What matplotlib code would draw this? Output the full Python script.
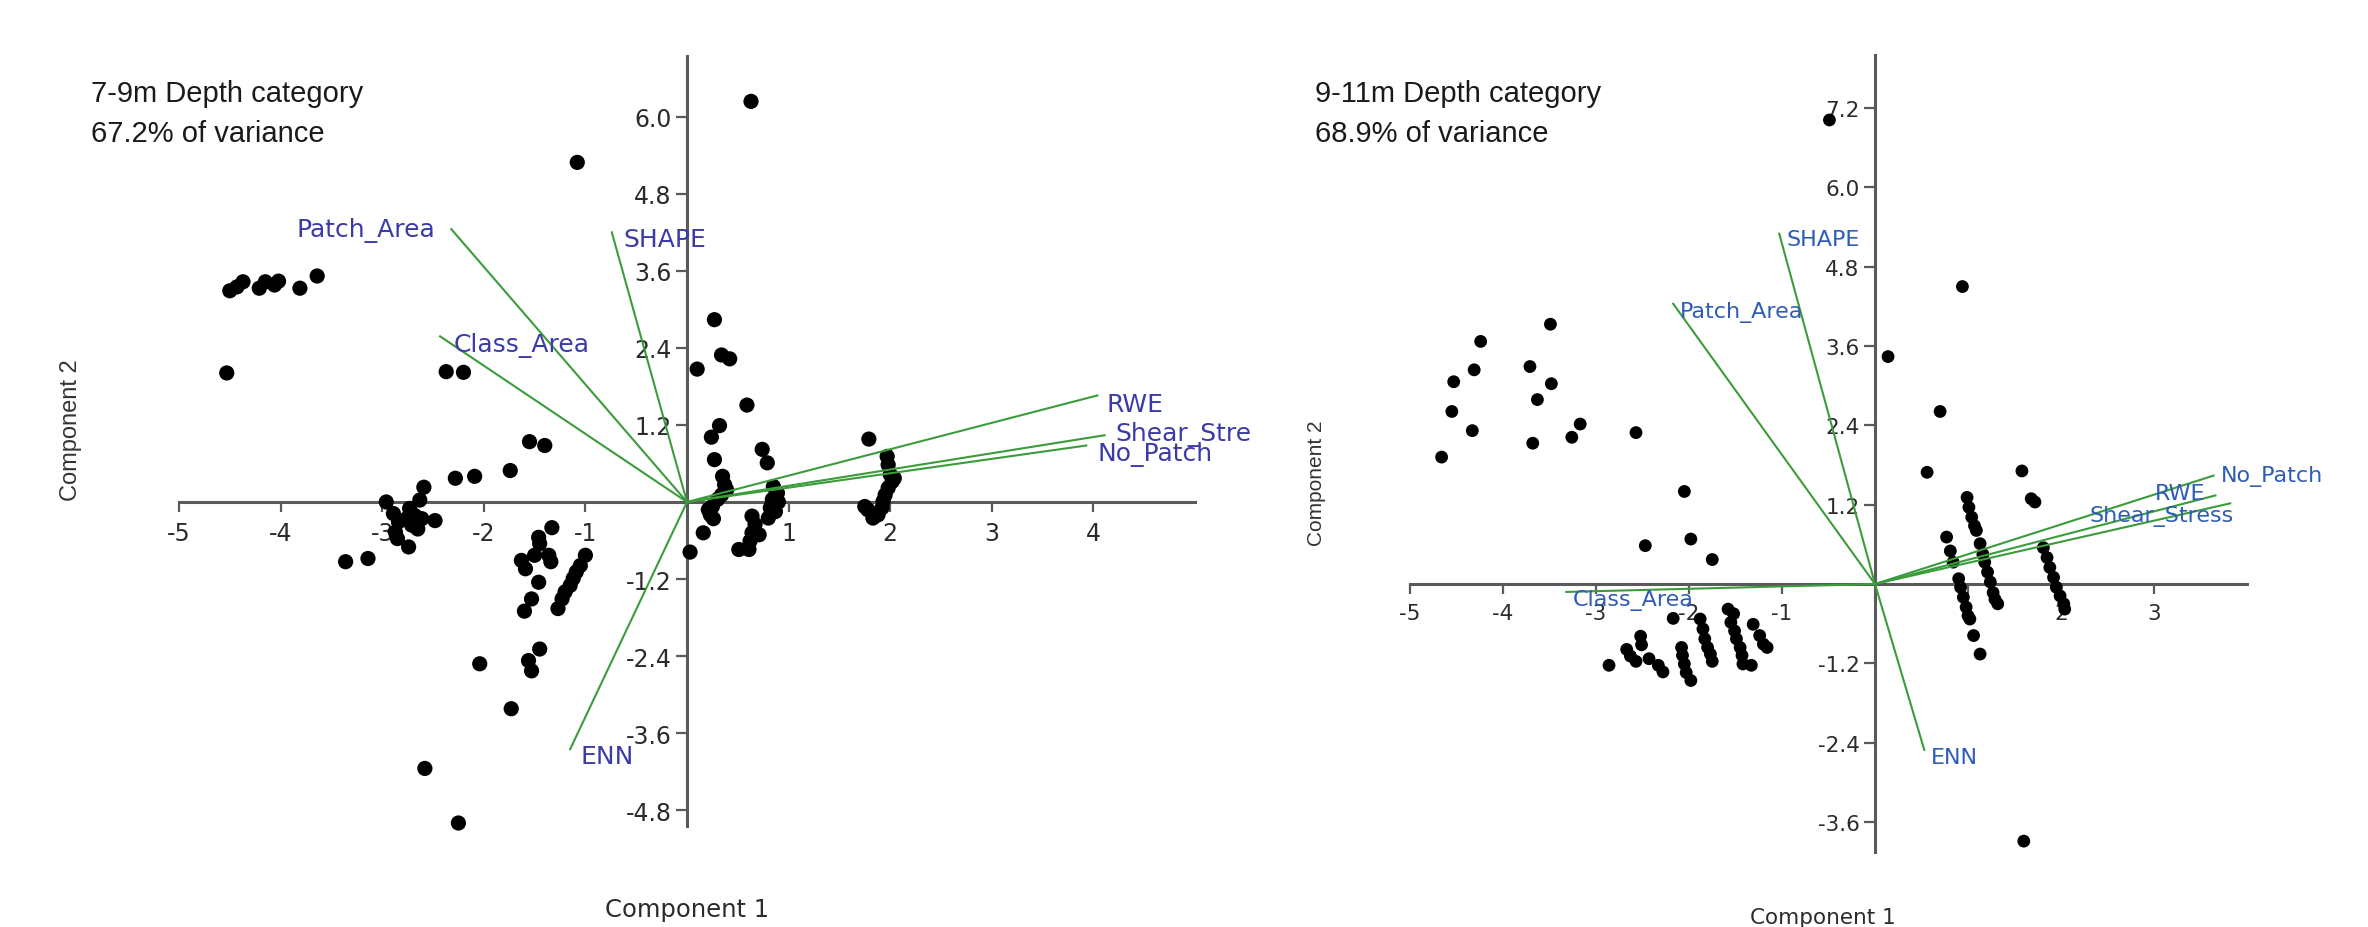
import matplotlib
matplotlib.use('Agg')
import matplotlib.pyplot as plt

# ---------------- data: 7-9m depth ----------------
left_x = [0.63, -1.08,
          -4.50, -4.43, -4.37, -4.21, -4.15, -4.06, -4.02, -3.81, -3.64,
          -4.53, -2.37, -2.20,
          -1.55, -1.40, -1.74, -2.28, -2.09, -2.59, -2.96, -2.63,
          -2.89, -2.84, -2.87, -2.85, -2.74, -2.73, -2.68, -2.65, -2.61, -2.48, -2.76, -2.71,
          -3.36, -3.14,
          -1.33, -1.46, -1.45, -1.63, -1.59, -1.50, -1.36, -1.34, -1.46, -1.53, -1.60,
          -1.00, -1.05, -1.09, -1.12, -1.15, -1.20, -1.23, -1.27,
          -1.45, -1.56, -1.53, -1.73, -2.04, -2.58, -2.25,
          0.27, 0.34, 0.42, 0.10, 0.59, 0.32, 0.24, 0.27, 0.35, 0.37, 0.39, 0.34, 0.30,
          0.25, 0.21, 0.23, 0.26, 0.16, 0.03,
          0.74, 0.79, 0.85, 0.89, 0.84, 0.90, 0.82, 0.87, 0.80,
          0.64, 0.67, 0.64, 0.71, 0.62, 0.61, 0.51,
          1.79, 1.97, 1.98, 2.00, 2.02, 1.98, 1.95, 1.93, 1.92, 1.88, 1.83, 1.78, 1.75, 2.04]
left_y = [6.24, 5.29,
          3.29, 3.35, 3.43, 3.33, 3.43, 3.38, 3.44, 3.33, 3.52,
          2.01, 2.03, 2.02,
          0.94, 0.88, 0.49, 0.37, 0.40, 0.23, 0.00, 0.03,
          -0.18, -0.31, -0.47, -0.57, -0.70, -0.10, -0.21, -0.42, -0.26, -0.29, -0.26, -0.36,
          -0.93, -0.88,
          -0.40, -0.55, -0.65, -0.91, -1.04, -0.83, -0.83, -0.93, -1.25, -1.51, -1.70,
          -0.83, -0.99, -1.09, -1.19, -1.30, -1.40, -1.51, -1.66,
          -2.29, -2.47, -2.63, -3.22, -2.52, -4.15, -5.00,
          2.84, 2.29, 2.23, 2.07, 1.51, 1.19, 1.01, 0.66, 0.40, 0.27, 0.19, 0.11, 0.04,
          -0.07, -0.12, -0.20, -0.26, -0.48, -0.78,
          0.82, 0.61, 0.24, 0.14, 0.04, 0.00, -0.09, -0.15, -0.25,
          -0.22, -0.35, -0.48, -0.51, -0.61, -0.74, -0.74,
          0.98, 0.71, 0.58, 0.43, 0.32, 0.22, 0.11, 0.01, -0.09, -0.20, -0.25, -0.12, -0.07, 0.37]

left_vars = ['Patch_Area', 'SHAPE', 'Class_Area', 'RWE', 'Shear_Stress', 'No_Patch', 'ENN']
left_load_x = [-2.32, -0.74, -2.43, 4.04, 4.11, 3.93, -1.15]
left_load_y = [4.25, 4.20, 2.58, 1.66, 1.04, 0.88, -3.85]
left_lab_x = [-2.48, -0.63, -2.30, 4.13, 4.22, 4.04, -1.05]
left_lab_y = [4.25, 4.10, 2.46, 1.53, 1.06, 0.75, -3.95]
left_lab_ha = ['right', 'left', 'left', 'left', 'left', 'left', 'left']

left_xticks = [-5, -4, -3, -2, -1, 1, 2, 3, 4]
left_yticks = [-4.8, -3.6, -2.4, -1.2, 1.2, 2.4, 3.6, 4.8, 6.0]

# ---------------- data: 9-11m depth ----------------
right_x = [-4.66, -4.55, -4.53, -4.33, -4.31, -4.24, -3.71, -3.63, -3.49, -3.48, -3.68, -3.26, -3.17,
           -2.57, -2.05, -1.98, -2.47, -1.75, -0.49, 0.14, 0.94, 0.70, 1.60,
           -2.86, -2.67, -2.63, -2.57, -2.52, -2.51, -2.43, -2.33, -2.28, -2.17,
           -2.08, -2.07, -2.05, -2.03, -1.98,
           -1.88, -1.85, -1.83, -1.80, -1.77, -1.75,
           -1.58, -1.52, -1.55, -1.51, -1.49, -1.45, -1.43, -1.42, -1.33,
           -1.31, -1.24, -1.20, -1.16,
           0.56, 1.58, 1.68, 1.72,
           0.99, 1.01, 1.04, 1.07, 1.09,
           0.77, 0.81, 0.84,
           1.13, 1.16, 1.18, 1.21, 1.24, 1.27, 1.29, 1.32,
           0.90, 0.92, 0.95, 0.98, 1.00, 1.02, 1.06, 1.13,
           1.81, 1.85, 1.88, 1.92, 1.95, 1.99, 2.03, 2.04]
right_y = [1.92, 2.61, 3.06, 2.32, 3.24, 3.67, 3.29, 2.79, 3.93, 3.03, 2.13, 2.22, 2.42,
           2.29, 1.40, 0.68, 0.58, 0.37, 7.02, 3.44, 4.50, 2.61, -3.89,
           -1.23, -0.99, -1.09, -1.17, -0.79, -0.92, -1.13, -1.23, -1.33, -0.52,
           -0.96, -1.08, -1.21, -1.34, -1.46,
           -0.53, -0.68, -0.83, -0.96, -1.06, -1.17,
           -0.38, -0.45, -0.58, -0.71, -0.83, -0.96, -1.08, -1.21, -1.23,
           -0.61, -0.78, -0.91, -0.96,
           1.69, 1.71, 1.29, 1.24,
           1.31, 1.16, 1.01, 0.88, 0.81,
           0.71, 0.50, 0.33,
           0.61, 0.45, 0.33, 0.18, 0.03, -0.13, -0.23, -0.30,
           0.08, -0.05, -0.20, -0.35, -0.48, -0.53, -0.78, -1.06,
           0.55, 0.40, 0.25, 0.10, -0.05, -0.18, -0.30, -0.38]

right_vars = ['SHAPE', 'Patch_Area', 'No_Patch', 'RWE', 'Shear_Stress', 'Class_Area', 'ENN']
right_load_x = [-1.03, -2.17, 3.64, 3.66, 3.82, -3.32, 0.53]
right_load_y = [5.30, 4.24, 1.64, 1.34, 1.22, -0.12, -2.51]
right_lab_x = [-0.95, -2.10, 3.72, 3.55, 3.86, -3.25, 0.60]
right_lab_y = [5.22, 4.13, 1.64, 1.38, 1.03, -0.24, -2.62]
right_lab_ha = ['left', 'left', 'left', 'right', 'right', 'left', 'left']

right_xticks = [-5, -4, -3, -2, -1, 1, 2, 3]
right_yticks = [-3.6, -2.4, -1.2, 1.2, 2.4, 3.6, 4.8, 6.0, 7.2]

W, H = 2368, 928
fig = plt.figure(figsize=(W / 100, H / 100), dpi=100)

GREEN = '#3a9c3a'
AXCOL = '#5a5a5a'
TICKCOL = '#2b2b2b'


def make_axes(origin, ppu, xlim, ylim):
    ox, oy = origin
    sx, sy = ppu
    left = (ox + xlim[0] * sx) / W
    width = (xlim[1] - xlim[0]) * sx / W
    bottom = 1 - (oy - ylim[0] * sy) / H
    height = (ylim[1] - ylim[0]) * sy / H
    ax = fig.add_axes([left, bottom, width, height])
    ax.set_xlim(xlim)
    ax.set_ylim(ylim)
    ax.patch.set_alpha(0)
    return ax


def draw_panel(ax, px, py, vars_, lx, ly, tx, ty, tha, xticks, yticks,
               xb, yb, lab_col, lab_size, tick_size, dot, clip):
    ax.scatter(px, py, s=dot, color='black', edgecolors='none', zorder=3)
    for i in range(len(vars_)):
        ax.plot([0, lx[i]], [0, ly[i]], color=GREEN, lw=1.5, zorder=4)
        ax.text(tx[i], ty[i], vars_[i], color=lab_col, fontsize=lab_size,
                ha=tha[i], va='center', family='DejaVu Sans', clip_on=clip, zorder=5)
    for s in ['top', 'right']:
        ax.spines[s].set_visible(False)
    ax.spines['left'].set_position(('data', 0))
    ax.spines['bottom'].set_position(('data', 0))
    ax.spines['left'].set_bounds(*yb)
    ax.spines['bottom'].set_bounds(*xb)
    for s in ['left', 'bottom']:
        ax.spines[s].set_color(AXCOL)
        ax.spines[s].set_linewidth(2.2)
    ax.set_xticks(xticks)
    ax.set_xticklabels([str(t) for t in xticks])
    ax.set_yticks(yticks)
    ax.set_yticklabels(['%.1f' % t for t in yticks])
    ax.tick_params(axis='x', direction='out', length=7, width=1.6, color=AXCOL,
                   labelsize=tick_size, labelcolor=TICKCOL, pad=7)
    ax.tick_params(axis='y', direction='out', length=8, width=1.6, color=AXCOL,
                   labelsize=tick_size, labelcolor=TICKCOL, pad=3)


# left panel
axL = make_axes((687, 503), (101.6, 64.2), (-5.5, 5.55), (-5.4, 7.2))
draw_panel(axL, left_x, left_y, left_vars, left_load_x, left_load_y,
           left_lab_x, left_lab_y, left_lab_ha, left_xticks, left_yticks,
           (-5.0, 5.0), (-5.05, 6.95), '#3b3ba8', 18, 17, 120, True)

# right panel
axR = make_axes((1875, 585), (93.0, 66.1), (-5.6, 5.0), (-4.4, 8.3))
draw_panel(axR, right_x, right_y, right_vars, right_load_x, right_load_y,
           right_lab_x, right_lab_y, right_lab_ha, right_xticks, right_yticks,
           (-5.0, 4.0), (-4.05, 8.0), '#2f5db5', 16, 15.5, 85, False)

# titles and axis names
fig.text(91 / W, 1 - 94 / H, '7-9m Depth category', fontsize=21,
         family='Liberation Sans', color='#1a1a1a', va='center', ha='left')
fig.text(91 / W, 1 - 134 / H, '67.2% of variance', fontsize=21,
         family='Liberation Sans', color='#1a1a1a', va='center', ha='left')
fig.text(1315 / W, 1 - 94 / H, '9-11m Depth category', fontsize=21,
         family='Liberation Sans', color='#1a1a1a', va='center', ha='left')
fig.text(1315 / W, 1 - 134 / H, '68.9% of variance', fontsize=21,
         family='Liberation Sans', color='#1a1a1a', va='center', ha='left')

fig.text(687 / W, 1 - 910 / H, 'Component 1', fontsize=17.5, family='DejaVu Sans',
         color=TICKCOL, ha='center', va='center')
fig.text(71 / W, 1 - 430 / H, 'Component 2', fontsize=17, family='Liberation Sans',
         color='#333333', ha='center', va='center', rotation=90)
fig.text(1823 / W, 1 - 918 / H, 'Component 1', fontsize=15.5, family='DejaVu Sans',
         color=TICKCOL, ha='center', va='center')
fig.text(1317 / W, 1 - 483 / H, 'Component 2', fontsize=15, family='Liberation Sans',
         color='#333333', ha='center', va='center', rotation=90)

fig.savefig('out.png', dpi=100)
